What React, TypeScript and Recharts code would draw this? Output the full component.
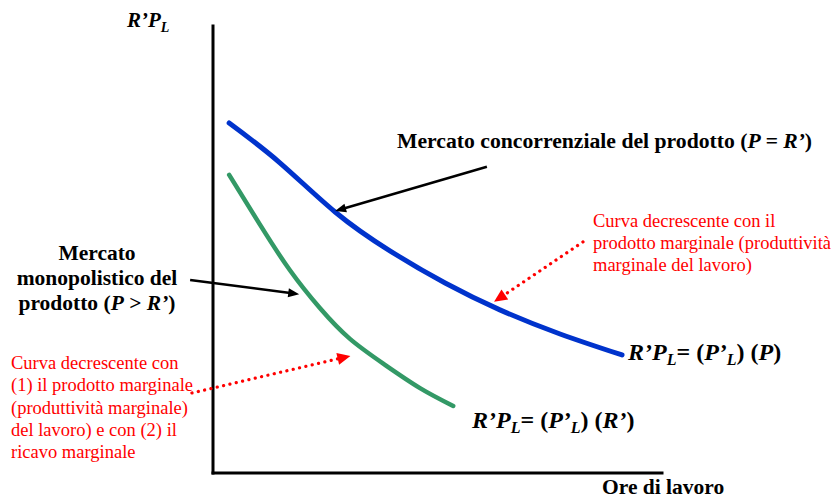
import React from "react"
import { LineChart, Line, XAxis, YAxis, ReferenceLine } from "recharts"

// Ore di lavoro (asse x, unità arbitrarie 0-100)
const concorrenzaX = [3.6, 14.9, 27.2, 39.4, 51.7, 63.9, 77.3, 91.1]
// R'P_L = (P'_L)(P)
const concorrenzaY = [78.3, 69.4, 58.4, 49.7, 42.5, 36.5, 31.1, 26.4]

const monopolioX = [3.6, 10.5, 17.1, 23.8, 30.5, 38.3, 46.1, 53.5]
// R'P_L = (P'_L)(R')
const monopolioY = [66.7, 55.5, 45.4, 36.9, 30.0, 24.2, 19.0, 15.0]

// frecce delle annotazioni (da -> a), in coordinate del grafico
const frecceNere = [
  [{ x: 61.0, y: 68.5 }, { x: 27.2, y: 58.6 }],
  [{ x: -5.1, y: 43.2 }, { x: 19.2, y: 40.0 }],
]
const frecceRosse = [
  [{ x: -4.7, y: 17.9 }, { x: 30.6, y: 26.2 }],
  [{ x: 82.4, y: 51.7 }, { x: 62.6, y: 38.3 }],
]

const redLeftLines = [
  "Curva decrescente con",
  "(1) il prodotto marginale",
  "(produttività marginale)",
  "del lavoro) e con (2) il",
  "ricavo marginale",
]
const redRightLines = [
  "Curva decrescente con il",
  "prodotto marginale (produttività",
  "marginale del lavoro)",
]

const toPoints = (xs: number[], ys: number[]) => xs.map((x, i) => ({ x, y: ys[i] }))
const concorrenza = toPoints(concorrenzaX, concorrenzaY)
const monopolio = toPoints(monopolioX, monopolioY)

const FONT = '"Liberation Serif", "Times New Roman", serif'

function Arrow(props: any) {
  const { x1, y1, x2, y2, color, dotted } = props
  const dx = x2 - x1
  const dy = y2 - y1
  const len = Math.sqrt(dx * dx + dy * dy)
  const ux = dx / len
  const uy = dy / len
  const headL = dotted ? 13 : 11
  const headW = dotted ? 6 : 4.5
  const bx = x2 - ux * headL
  const by = y2 - uy * headL
  const pts = `${x2},${y2} ${bx - uy * headW},${by + ux * headW} ${bx + uy * headW},${by - ux * headW}`
  return (
    <g>
      <line
        x1={x1}
        y1={y1}
        x2={bx + ux * 2}
        y2={by + uy * 2}
        stroke={color}
        strokeWidth={dotted ? 3.2 : 2.5}
        strokeDasharray={dotted ? "0.1 6.4" : undefined}
        strokeLinecap={dotted ? "round" : "butt"}
      />
      <polygon points={pts} fill={color} />
    </g>
  )
}

function Equation({ x, y, last }: { x: number; y: number; last: string }) {
  return (
    <text x={x} y={y} fontFamily={FONT} fontSize={24} fontWeight="bold" fill="#000">
      <tspan fontStyle="italic">R’P</tspan>
      <tspan fontStyle="italic" dy={5} fontSize={16}>L</tspan>
      <tspan dy={-5}>= (</tspan>
      <tspan fontStyle="italic">P’</tspan>
      <tspan fontStyle="italic" dy={5} fontSize={16}>L</tspan>
      <tspan dy={-5}>) (</tspan>
      <tspan fontStyle="italic">{last}</tspan>
      <tspan>)</tspan>
    </text>
  )
}

export default function App() {
  return (
    <div style={{ position: "absolute", left: 0, top: 0, width: 834, height: 499, background: "#fff" }}>
      <LineChart width={834} height={499} margin={{ top: 26, right: 172, bottom: 26, left: 213 }}>
        <XAxis type="number" dataKey="x" domain={[0, 100]} allowDataOverflow hide height={0} />
        <YAxis type="number" dataKey="y" domain={[0, 100]} allowDataOverflow hide width={0} />
        <ReferenceLine x={0} stroke="#000" strokeWidth={3} strokeLinecap="square" ifOverflow="visible" />
        <ReferenceLine y={0} stroke="#000" strokeWidth={3} strokeLinecap="square" ifOverflow="visible" />
        <Line
          data={concorrenza}
          dataKey="y"
          type="natural"
          stroke="#0033CC"
          strokeWidth={5}
          strokeLinecap="round"
          dot={false}
          isAnimationActive={false}
        />
        <Line
          data={monopolio}
          dataKey="y"
          type="natural"
          stroke="#339966"
          strokeWidth={4.5}
          strokeLinecap="round"
          dot={false}
          isAnimationActive={false}
        />
        {frecceNere.map((seg, i) => (
          <ReferenceLine
            key={`n${i}`}
            segment={seg}
            ifOverflow="visible"
            shape={(p: any) => <Arrow {...p} color="#000" />}
          />
        ))}
        {frecceRosse.map((seg, i) => (
          <ReferenceLine
            key={`r${i}`}
            segment={seg}
            ifOverflow="visible"
            shape={(p: any) => <Arrow {...p} color="#FF0000" dotted />}
          />
        ))}

        <g fontFamily={FONT}>
          <text x={127} y={27} fontFamily={FONT} fontSize={21} fontWeight="bold" fontStyle="italic" fill="#000">
            R’P
            <tspan dy={5} fontSize={14}>L</tspan>
          </text>

          <text x={397} y={148} fontFamily={FONT} fontSize={21.7} fontWeight="bold" fill="#000">
            Mercato concorrenziale del prodotto (<tspan fontStyle="italic">P = R’</tspan>)
          </text>

          <text x={97} textAnchor="middle" fontFamily={FONT} fontSize={21.5} fontWeight="bold" fill="#000">
            <tspan x={97} y={260}>Mercato</tspan>
            <tspan x={97} y={285}>monopolistico del</tspan>
            <tspan x={97} y={310}>
              prodotto (<tspan fontStyle="italic">P</tspan> &gt; <tspan fontStyle="italic">R’</tspan>)
            </tspan>
          </text>

          <text fontFamily={FONT} fontSize={18.5} fill="#FF0000">
            {redRightLines.map((t, i) => (
              <tspan key={i} x={593} y={227 + i * 22}>
                {t}
              </tspan>
            ))}
          </text>

          <text fontFamily={FONT} fontSize={18.5} fill="#FF0000">
            {redLeftLines.map((t, i) => (
              <tspan key={i} x={11} y={369 + i * 22.3}>
                {t}
              </tspan>
            ))}
          </text>

          <Equation x={628} y={360} last="P" />
          <Equation x={472} y={428} last="R’" />

          <text x={602} y={494} fontFamily={FONT} fontSize={21.5} fontWeight="bold" fill="#000">
            Ore di lavoro
          </text>
        </g>
      </LineChart>
    </div>
  )
}
